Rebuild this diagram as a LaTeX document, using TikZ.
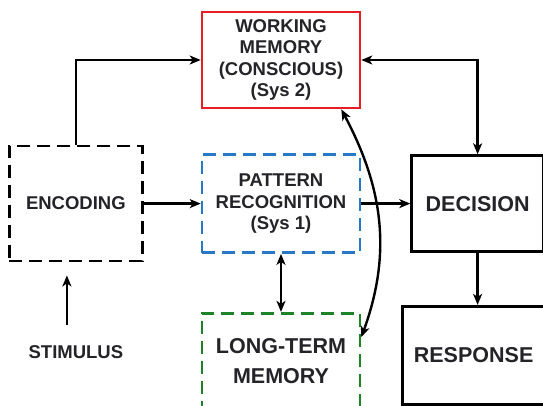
\documentclass[tikz,border=0pt]{standalone}
\usepackage{fontspec}
\setmainfont{Liberation Sans}
\usetikzlibrary{arrows.meta, positioning}
\definecolor{wmred}{RGB}{230,30,40}
\definecolor{prblue}{RGB}{40,120,200}
\definecolor{ltmgreen}{RGB}{30,130,40}
\definecolor{txt}{RGB}{35,35,40}
\tikzset{
  smalltext/.style = {font=\fontsize{18.5}{21.5}\selectfont\bfseries, text=txt, align=center},
  bigtext/.style = {font=\fontsize{21.5}{30}\selectfont\bfseries, text=txt, align=center},
  solidbox/.style = {rectangle, draw=black, line width=2.6pt, inner sep=0pt},
  dashbox/.style = {rectangle, line width=2.6pt, dash pattern=on 13pt off 7pt, inner sep=0pt},
  link/.style = {line width=2.4pt, -{Stealth[length=11pt, width=9pt, inset=3pt]}},
  twolink/.style = {line width=2.4pt, {Stealth[length=11pt, width=9pt, inset=3pt]}-{Stealth[length=11pt, width=9pt, inset=3pt]}}
}

\begin{document}
\begin{tikzpicture}[x=1pt, y=-1pt]
  \useasboundingbox (0,0) rectangle (543,406);

  % Middle column: working memory, pattern recognition, long-term memory
  \node (wm) [solidbox, draw=wmred, smalltext, minimum width=158pt, minimum height=96pt] at (281,60)
    {WORKING\\MEMORY\\(CONSCIOUS)\\(Sys 2)};
  \node (pr) [dashbox, draw=prblue, smalltext, minimum width=158pt, minimum height=98pt, below=44pt of wm]
    {PATTERN\\RECOGNITION\\(Sys 1)};
  \node (ltm) [dashbox, draw=ltmgreen, bigtext, minimum width=158pt, minimum height=96pt, below=58pt of pr]
    {LONG-TERM\\MEMORY};

  % Left column: encoding and stimulus
  \node (enc) [dashbox, draw=black, smalltext, minimum width=133pt, minimum height=115pt, left=57pt of pr] {ENCODING};
  \node (stim) [smalltext, below=80pt of enc] {STIMULUS};

  % Right column: decision and response
  \node (dec) [solidbox, bigtext, minimum width=132pt, minimum height=96pt, right=49pt of pr] {DECISION};
  \node (resp) [solidbox, bigtext, minimum width=142pt, minimum height=98pt, below=52pt of dec, xshift=-4pt] {RESPONSE};

  % Connecting Nodes
  \draw[link, shorten <=17pt, shorten >=13pt] ([xshift=-9pt]stim.north) -- ([xshift=-9pt]enc.south);
  \draw[link] (enc.north) |- (wm.west);
  \draw[link] (enc.east) -- (pr.west);
  \draw[link] (pr.east) -- (dec.west);
  \draw[twolink] (wm.east) -| (dec.north);
  \draw[link] (dec.south) -- (dec.south |- resp.north);
  \draw[twolink] (pr.south) -- (ltm.north);
  \draw[twolink] ([xshift=-20pt]wm.south east) to[out=-62, in=70] ([yshift=24pt]ltm.east);
\end{tikzpicture}
\end{document}
